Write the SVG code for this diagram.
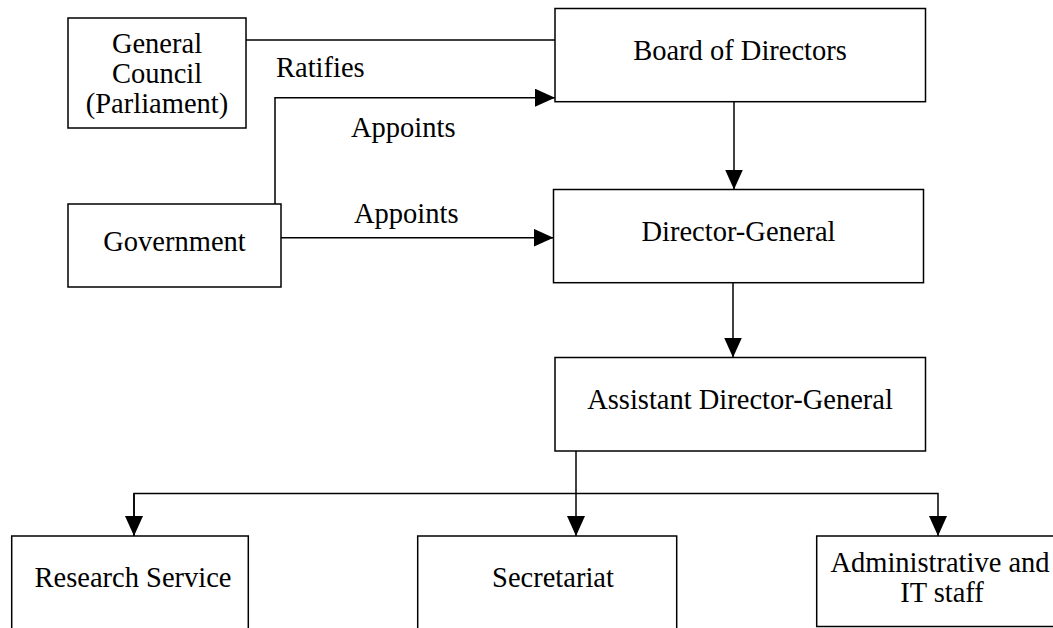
<svg xmlns="http://www.w3.org/2000/svg" width="1053" height="628" viewBox="0 0 1053 628">
<style>
.box{fill:#fff;stroke:#000;stroke-width:1.5}
text{font-family:'Liberation Serif','Times New Roman',serif;font-size:28.5px;fill:#000}
.t{text-anchor:middle}
.c{fill:none;stroke:#000;stroke-width:1.5}
</style>
<defs>
<marker id="arr" markerWidth="20" markerHeight="18" refX="20" refY="9" orient="auto" markerUnits="userSpaceOnUse">
<path d="M0,0 L20,9 L0,18 Z" fill="#000"/>
</marker>
</defs>
<rect width="1053" height="628" fill="#fff"/>
<g id="connectors">
<path class="c" d="M246,40 H555"/>
<path class="c" d="M275,204 V97.7 H555" marker-end="url(#arr)"/>
<path class="c" d="M281,237.7 H553.5" marker-end="url(#arr)"/>
<path class="c" d="M734,101.7 V189.5" marker-end="url(#arr)"/>
<path class="c" d="M733,282.7 V357.5" marker-end="url(#arr)"/>
<path class="c" d="M576,451 V536" marker-end="url(#arr)"/>
<path class="c" d="M134,536 V493.5 H938 V536" marker-end="url(#arr)"/>
<path class="c" d="M134,493.5 V536" marker-end="url(#arr)"/>
<text x="276" y="77">Ratifies</text>
<text x="351" y="137">Appoints</text>
<text x="354" y="223">Appoints</text>
</g>
<g id="general-council">
<rect class="box" x="68" y="18" width="178" height="110"/>
<text class="t" x="157" y="53">General</text>
<text class="t" x="157" y="83">Council</text>
<text class="t" x="157" y="113">(Parliament)</text>
</g>
<g id="government">
<rect class="box" x="68" y="204" width="213" height="83"/>
<text class="t" x="174.5" y="251">Government</text>
</g>
<g id="board">
<rect class="box" x="555" y="8.5" width="370.5" height="93.2"/>
<text class="t" x="740" y="60">Board of Directors</text>
</g>
<g id="director-general">
<rect class="box" x="553.5" y="189.5" width="370" height="93.2"/>
<text class="t" x="738.5" y="241">Director-General</text>
</g>
<g id="assistant-dg">
<rect class="box" x="555" y="357.5" width="370.5" height="93.5"/>
<text class="t" x="740" y="409">Assistant Director-General</text>
</g>
<g id="research-service">
<rect class="box" x="11.7" y="536" width="236.6" height="110"/>
<text class="t" x="133" y="587">Research Service</text>
</g>
<g id="secretariat">
<rect class="box" x="417.7" y="536" width="259" height="110"/>
<text class="t" x="553" y="587">Secretariat</text>
</g>
<g id="admin-it">
<rect class="box" x="816.7" y="536" width="260" height="90.5"/>
<text class="t" x="940" y="572">Administrative and</text>
<text class="t" x="942" y="602">IT staff</text>
</g>
</svg>
